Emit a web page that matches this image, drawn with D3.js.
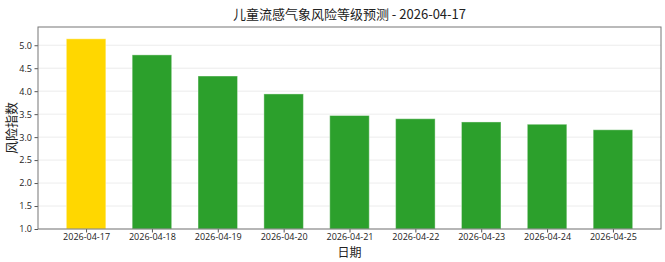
<!DOCTYPE html>
<html>
<head>
<meta charset="utf-8">
<script src="https://cdn.jsdelivr.net/npm/d3@7"></script>
<style>
  body { margin: 0; background: #fff; }
  text { font-family: "Noto Sans CJK SC", "Open Sans", sans-serif; }
</style>
</head>
<body>
<svg id="chart" width="665" height="262"></svg>
<script>
// chart data
var dates = ["2026-04-17", "2026-04-18", "2026-04-19", "2026-04-20", "2026-04-21",
             "2026-04-22", "2026-04-23", "2026-04-24", "2026-04-25"];
var riskValues = [5.14, 4.79, 4.33, 3.94, 3.47, 3.40, 3.33, 3.28, 3.16];
var yTicks = [1.0, 1.5, 2.0, 2.5, 3.0, 3.5, 4.0, 4.5, 5.0];
var titleText = "儿童流感气象风险等级预测 - 2026-04-17";

var svg = d3.select("#chart");
var margin = { top: 27, left: 38, bottom: 33, right: 4 };
var width = 665, height = 262;
var plotW = width - margin.left - margin.right;
var plotH = height - margin.top - margin.bottom;

var barWidth = 0.6;
var n = dates.length;
var pad = 0.05 * (n - 1 + barWidth);
var x = d3.scaleLinear()
    .domain([-barWidth / 2 - pad, n - 1 + barWidth / 2 + pad])
    .range([0, plotW]);
var y = d3.scaleLinear()
    .domain([1, d3.max(riskValues) * 1.05])
    .range([plotH, 0]);

var g = svg.append("g")
    .attr("transform", "translate(" + [margin.left, margin.top] + ")");

// grid
g.selectAll(".grid")
    .data(yTicks)
    .enter().append("line")
    .attr("x1", 0).attr("x2", plotW)
    .attr("y1", function (d) { return y(d); })
    .attr("y2", function (d) { return y(d); })
    .attr("stroke", "#b0b0b0")
    .attr("stroke-opacity", 0.3)
    .attr("stroke-width", 0.8);

// bars
g.selectAll(".bar")
    .data(riskValues)
    .enter().append("rect")
    .attr("x", function (d, i) { return x(i - barWidth / 2); })
    .attr("width", x(barWidth) - x(0))
    .attr("y", function (d) { return y(d); })
    .attr("height", function (d) { return plotH - y(d); })
    .attr("fill", function (d, i) { return i === 0 ? "#FFD700" : "#2ca02c"; })
    .attr("stroke", "#ffffff")
    .attr("stroke-opacity", 0.4)
    .attr("stroke-width", 1);

// axes
var xAxis = d3.axisBottom(x)
    .tickValues(d3.range(n))
    .tickFormat(function (i) { return dates[i]; })
    .tickSize(3.5)
    .tickSizeOuter(0);
var yAxis = d3.axisLeft(y)
    .tickValues(yTicks)
    .tickFormat(d3.format(".1f"))
    .tickSize(3.5)
    .tickSizeOuter(0);

var gx = g.append("g")
    .attr("transform", "translate(0," + plotH + ")")
    .call(xAxis);
var gy = g.append("g").call(yAxis);

[gx, gy].forEach(function (a) {
    a.select(".domain").remove();
    a.selectAll(".tick line").attr("stroke", "#555");
    a.selectAll(".tick text")
        .attr("fill", "#222")
        .style("font-size", "9px")
        .style("font-family", "'Open Sans', sans-serif");
});
gx.selectAll(".tick text").attr("y", 5);
gy.selectAll(".tick text").attr("x", -6);

// frame
g.append("rect")
    .attr("x", 0).attr("y", 0)
    .attr("width", plotW).attr("height", plotH)
    .attr("fill", "none")
    .attr("stroke", "#777")
    .attr("stroke-width", 1);

// title and axis labels
svg.append("text")
    .attr("x", margin.left + plotW / 2)
    .attr("y", 19)
    .attr("text-anchor", "middle")
    .style("font-size", "13px")
    .attr("fill", "#222")
    .text(titleText);

svg.append("text")
    .attr("x", margin.left + plotW / 2)
    .attr("y", 257)
    .attr("text-anchor", "middle")
    .style("font-size", "12px")
    .attr("fill", "#222")
    .text("日期");

svg.append("text")
    .attr("transform", "translate(" + 16 + "," + (margin.top + plotH / 2) + ") rotate(-90)")
    .attr("text-anchor", "middle")
    .style("font-size", "13px")
    .attr("fill", "#222")
    .text("风险指数");
</script>
</body>
</html>
